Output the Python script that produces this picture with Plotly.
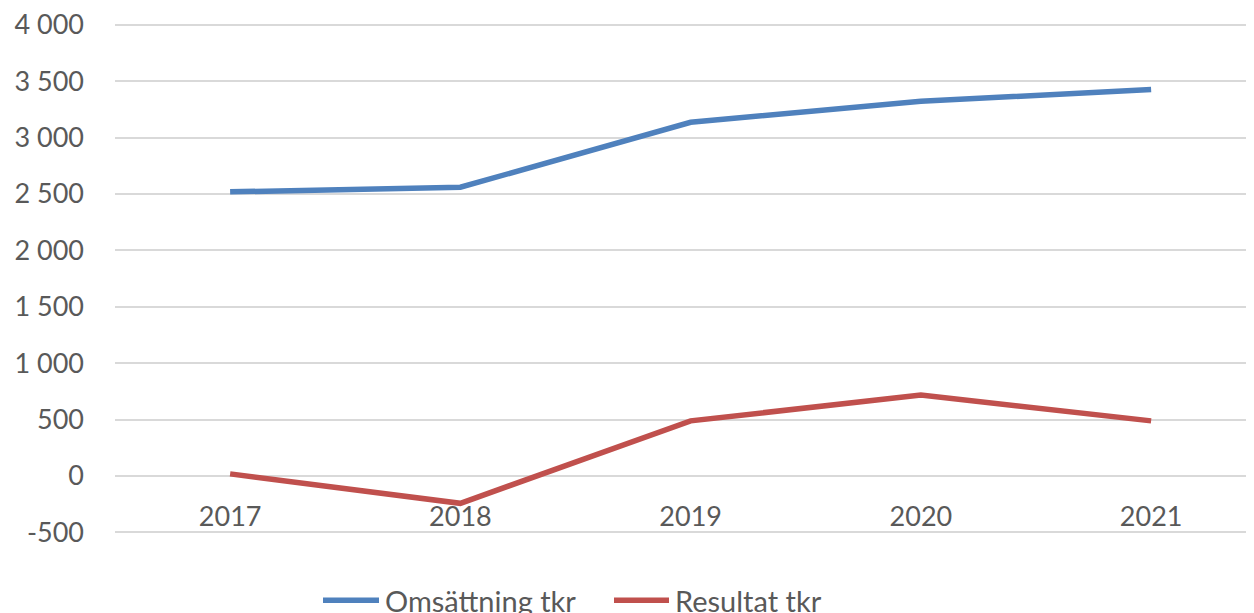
import plotly.graph_objects as go

years = ["2017", "2018", "2019", "2020", "2021"]
omsattning = [2518, 2559, 3135, 3321, 3426]
resultat = [18, -243, 488, 716, 488]
series_names = ["Omsättning tkr", "Resultat tkr"]
series_colors = ["#4f81bd", "#c0504d"]
y_tickvals = [-500, 0, 500, 1000, 1500, 2000, 2500, 3000, 3500, 4000]
y_ticktext = ["-500", "0", "500", "1 000", "1 500", "2 000", "2 500", "3 000", "3 500", "4 000"]

FONT = "Lato"
TXT = "#595959"

fig = go.Figure()
for name, vals, col in zip(series_names, [omsattning, resultat], series_colors):
    fig.add_trace(go.Scatter(
        x=list(range(len(years))), y=vals, name=name, mode="lines",
        line=dict(color=col, width=5.5), showlegend=False,
    ))

# the page body adds an 8px offset; compensate so the picture lines up
OFF = 8
W, H = 1254, 613
ymin, ymax = -500, 4000
eps = 15                      # small padding so edge gridlines are drawn
scale = 507.5 / (ymax - ymin)  # px per unit
pad_px = eps * scale
L, R = 115 - OFF, 0
T = 24.5 - OFF - pad_px
B = H - (532 - OFF + pad_px)
pw = W - L - R
ph = H - T - B

def px_x(px):
    return (px - OFF - L) / pw

def px_y(py):
    return (H - B - (py - OFF)) / ph

fig.update_layout(
    width=W, height=H,
    margin=dict(l=L, r=R, t=T, b=B, pad=0),
    plot_bgcolor="white", paper_bgcolor="white",
    font=dict(family=FONT, color=TXT, size=27),
    xaxis=dict(
        range=[-0.5, -0.5 + pw / 230.25],
        tickvals=list(range(len(years))), ticktext=years,
        showgrid=False, zeroline=False, showline=False,
        anchor="free", position=(0 - (ymin - eps)) / (ymax - ymin + 2 * eps),
        ticks="", ticklabelstandoff=22,
        tickfont=dict(size=27, color=TXT, family=FONT),
        fixedrange=True,
    ),
    yaxis=dict(
        range=[ymin - eps, ymax + eps],
        tickvals=y_tickvals, ticktext=y_ticktext,
        showgrid=True, gridcolor="#d9d9d9", gridwidth=2,
        zeroline=False, showline=False,
        ticks="", ticklabelstandoff=30, ticklabeloverflow="allow",
        tickfont=dict(size=27, color=TXT, family=FONT),
        fixedrange=True,
    ),
)

# custom legend (line swatches + labels)
leg_items = [(323, 379, 383), (614, 669, 673)]
for (x0, x1, tx), name, col in zip(leg_items, series_names, series_colors):
    fig.add_shape(type="line", xref="paper", yref="paper",
                  x0=px_x(x0), x1=px_x(x1), y0=px_y(600), y1=px_y(600),
                  line=dict(color=col, width=5.5))
    fig.add_annotation(xref="paper", yref="paper", x=px_x(tx), y=px_y(600),
                       xanchor="left", yanchor="middle", text=name, showarrow=False,
                       font=dict(size=29, color=TXT, family=FONT))

fig.write_html("out.html")
